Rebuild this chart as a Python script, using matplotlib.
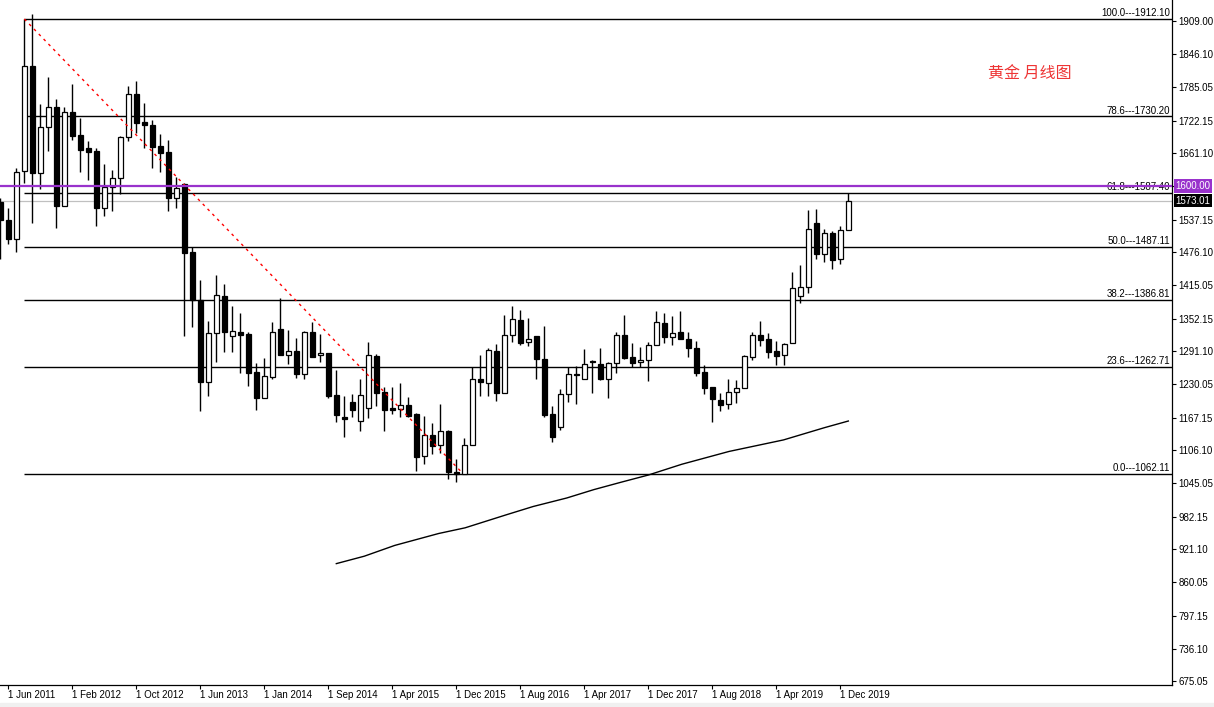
import numpy as np
import matplotlib
matplotlib.use("Agg")
import matplotlib.pyplot as plt
from matplotlib.patches import Rectangle
from matplotlib.transforms import blended_transform_factory

plt.rcParams['font.family'] = ['Liberation Sans', 'DejaVu Sans']

# monthly gold candles, one entry per bar (May 2011 -> Jan 2020)
opens = [1570.2, 1536.6, 1501.1, 1628.1, 1824.3, 1624.4, 1710.3, 1747.7, 1562.8, 1738.4,
         1695.4, 1671.1, 1665.5, 1559.0, 1598.3, 1615.1, 1691.7, 1772.0, 1719.7, 1714.1,
         1674.9, 1663.6, 1577.7, 1603.9, 1476.8, 1387.2, 1234.0, 1325.5, 1394.6, 1319.9,
         1327.4, 1323.6, 1252.7, 1204.1, 1243.3, 1333.0, 1284.4, 1291.9, 1248.9, 1327.4,
         1284.4, 1288.2, 1209.7, 1168.6, 1196.6, 1161.1, 1185.4, 1282.5, 1215.3, 1185.4,
         1183.5, 1191.0, 1174.2, 1095.7, 1135.0, 1116.3, 1142.4, 1065.9, 1062.1, 1116.3,
         1239.6, 1232.1, 1291.9, 1213.4, 1321.8, 1349.8, 1308.7, 1319.9, 1276.9, 1174.2,
         1149.9, 1211.6, 1248.9, 1239.6, 1273.2, 1267.6, 1239.6, 1269.5, 1321.8, 1280.7,
         1271.3, 1275.1, 1303.1, 1344.2, 1318.0, 1327.4, 1314.3, 1297.5, 1252.7, 1224.6,
         1200.4, 1192.9, 1215.3, 1222.8, 1280.7, 1321.8, 1314.3, 1291.9, 1284.4, 1306.8,
         1394.6, 1411.4, 1531.0, 1473.1, 1512.3, 1463.8, 1517.9]
highs = [1577.7, 1559.0, 1633.8, 1912.1, 1921.4, 1753.3, 1803.7, 1762.6, 1747.7, 1790.7,
         1727.2, 1684.2, 1671.1, 1641.2, 1630.0, 1693.5, 1786.9, 1796.3, 1755.2, 1723.4,
         1697.3, 1686.1, 1616.9, 1605.7, 1486.2, 1424.5, 1347.9, 1433.9, 1417.1, 1376.0,
         1362.9, 1327.4, 1269.5, 1278.8, 1346.1, 1390.9, 1331.1, 1316.2, 1329.3, 1346.1,
         1323.6, 1288.2, 1256.4, 1207.8, 1211.6, 1239.6, 1308.7, 1286.3, 1224.6, 1224.6,
         1232.1, 1206.0, 1176.1, 1170.5, 1157.4, 1192.9, 1144.3, 1090.1, 1129.4, 1262.0,
         1284.4, 1297.5, 1305.0, 1359.1, 1376.0, 1368.5, 1353.5, 1319.9, 1338.6, 1189.1,
         1220.9, 1262.0, 1263.9, 1295.6, 1275.1, 1297.5, 1271.3, 1327.4, 1359.1, 1306.8,
         1299.4, 1308.7, 1366.6, 1362.9, 1357.3, 1366.6, 1327.4, 1310.6, 1265.7, 1224.6,
         1213.4, 1239.6, 1237.7, 1284.4, 1327.4, 1347.9, 1325.5, 1310.6, 1306.8, 1439.5,
         1452.5, 1555.3, 1557.2, 1519.8, 1516.1, 1525.4, 1587.1]
lows = [1463.8, 1491.8, 1476.8, 1605.7, 1531.0, 1594.5, 1665.5, 1521.7, 1562.8, 1686.1,
        1626.3, 1611.3, 1525.4, 1544.1, 1553.4, 1585.2, 1684.2, 1699.1, 1671.1, 1633.8,
        1626.3, 1553.4, 1559.0, 1319.9, 1336.7, 1179.8, 1207.8, 1271.3, 1290.0, 1290.0,
        1250.8, 1226.5, 1181.7, 1204.1, 1239.6, 1284.4, 1267.6, 1241.5, 1239.6, 1280.7,
        1271.3, 1204.1, 1159.3, 1131.2, 1168.6, 1142.4, 1166.7, 1189.1, 1142.4, 1174.2,
        1168.6, 1168.6, 1067.7, 1080.8, 1099.5, 1101.3, 1052.8, 1047.2, 1062.1, 1116.3,
        1207.8, 1207.8, 1198.5, 1213.4, 1308.7, 1303.1, 1301.2, 1239.6, 1168.6, 1121.9,
        1144.3, 1196.6, 1192.9, 1239.6, 1213.4, 1237.7, 1204.1, 1250.8, 1276.9, 1262.0,
        1262.0, 1235.8, 1303.1, 1306.8, 1303.1, 1314.3, 1280.7, 1245.2, 1211.6, 1159.3,
        1179.8, 1183.5, 1194.8, 1222.8, 1275.1, 1301.2, 1278.8, 1265.7, 1265.7, 1306.8,
        1381.6, 1400.2, 1463.8, 1458.2, 1445.1, 1454.4, 1517.9]
closes = [1536.6, 1501.1, 1626.3, 1824.3, 1624.4, 1710.3, 1747.7, 1562.8, 1738.4, 1693.5,
          1667.4, 1663.6, 1559.0, 1598.3, 1615.1, 1691.7, 1772.0, 1717.8, 1714.1, 1673.0,
          1661.8, 1577.7, 1596.4, 1475.0, 1387.2, 1234.0, 1325.5, 1396.5, 1327.4, 1329.3,
          1321.8, 1250.8, 1204.1, 1245.2, 1327.4, 1284.4, 1291.9, 1248.9, 1327.4, 1280.7,
          1288.2, 1207.8, 1172.3, 1164.9, 1181.7, 1209.7, 1284.4, 1213.4, 1181.7, 1181.7,
          1191.0, 1170.5, 1093.9, 1135.0, 1114.4, 1142.4, 1065.9, 1062.1, 1116.3, 1239.6,
          1234.0, 1293.8, 1213.4, 1321.8, 1351.7, 1306.8, 1314.3, 1276.9, 1172.3, 1131.2,
          1211.6, 1248.9, 1247.1, 1267.6, 1271.3, 1239.6, 1269.5, 1321.8, 1278.8, 1269.5,
          1275.1, 1303.1, 1346.1, 1318.0, 1325.5, 1314.3, 1297.5, 1250.8, 1222.8, 1202.2,
          1191.0, 1215.3, 1222.8, 1282.5, 1321.8, 1312.4, 1290.0, 1282.5, 1305.0, 1409.6,
          1411.4, 1519.8, 1473.1, 1512.3, 1461.9, 1517.9, 1573.01]

# long moving average, read at a few bars
ma_bars = [42, 45.5, 49.3, 54.8, 58.1, 63.2, 66.6, 70.8, 74.2, 77.6, 81, 85.2, 91.1, 97.9, 103, 106]
ma_vals = [894.7, 908.6, 928.7, 951.0, 961.6, 985.7, 1001.4, 1017.3, 1033.0, 1046.8,
           1060.2, 1080.4, 1104.3, 1125.8, 1148.6, 1161.1]

# fibonacci retracement between the 2011 high and the 2015 low
fib_high = 1912.10
fib_low = 1062.11
fib_start_bar = 3
fib_ratios = [100.0, 78.6, 61.8, 50.0, 38.2, 23.6, 0.0]

# dotted downtrend line
trend_bars = [3, 57.7]
trend_prices = [1912.1, 1065.0]

resistance = 1600.00
last_price = 1573.01

ytick_vals = [1909.00, 1846.10, 1785.05, 1722.15, 1661.10, 1600.00, 1537.15, 1476.10,
              1415.05, 1352.15, 1291.10, 1230.05, 1167.15, 1106.10, 1045.05, 982.15,
              921.10, 860.05, 797.15, 736.10, 675.05]
xtick_bars = [1, 9, 17, 25, 33, 41, 49, 57, 65, 73, 81, 89, 97, 105]
xtick_labels = ["1 Jun 2011", "1 Feb 2012", "1 Oct 2012", "1 Jun 2013", "1 Jan 2014",
                "1 Sep 2014", "1 Apr 2015", "1 Dec 2015", "1 Aug 2016", "1 Apr 2017",
                "1 Dec 2017", "1 Aug 2018", "1 Apr 2019", "1 Dec 2019"]

W, H = 1214, 707
fig = plt.figure(figsize=(W / 100, H / 100), dpi=100)
ax = fig.add_axes([0, 1 - 684.5 / H, 1172 / W, 684.5 / H])

o = np.array(opens)
h = np.array(highs)
l = np.array(lows)
c = np.array(closes)
x = np.arange(len(o))
up = c >= o

# wicks then bodies
ax.vlines(x, l, h, color="black", lw=1.0, zorder=3)
body_lo = np.minimum(o, c)
body_h = np.maximum(np.abs(c - o), 1.6)
ax.bar(x[up], body_h[up], bottom=body_lo[up], width=0.6, color="white",
       edgecolor="black", linewidth=0.9, zorder=4)
ax.bar(x[~up], body_h[~up], bottom=body_lo[~up], width=0.6, color="black",
       edgecolor="black", linewidth=0.9, zorder=4)

ax.plot(ma_bars, ma_vals, color="black", lw=1.0, zorder=3)
ax.plot(trend_bars, trend_prices, color="#ff0000", lw=1.0, linestyle=(0, (2, 3)), zorder=5)

xmin = -0.04
xmax = xmin + 1172 / 8
ax.set_xlim(xmin, xmax)
ax.set_ylim(668.9, 1947.6)

trans = blended_transform_factory(ax.transAxes, ax.transData)
for r in fib_ratios:
    lvl = fib_low + (fib_high - fib_low) * r / 100
    ax.hlines(lvl, fib_start_bar, xmax, color="black", lw=1.0, zorder=2)
    ax.text(0.9985, lvl + 1.5, "%.1f---%.2f" % (r, lvl), transform=trans,
            ha="right", va="bottom", fontsize=7, color="black", zorder=3)

ax.axhline(last_price, color="#c0c0c0", lw=0.9, zorder=1)
ax.axhline(resistance, color="#9932cc", lw=1.6, zorder=6)

ax.text(1.003, resistance, "%.2f" % resistance, transform=trans, ha="left", va="center",
        fontsize=7, color="white", clip_on=False, zorder=10,
        bbox=dict(boxstyle="square,pad=0.2", fc="#9932cc", ec="none"))
ax.text(1.003, last_price, "%.2f" % last_price, transform=trans, ha="left", va="center",
        fontsize=7, color="white", clip_on=False, zorder=10,
        bbox=dict(boxstyle="square,pad=0.2", fc="black", ec="none"))

ax.yaxis.tick_right()
ax.set_yticks(ytick_vals)
# the 1600 tick label sits under the purple price tag
ax.set_yticklabels(["" if v == resistance else "%.2f" % v for v in ytick_vals])
ax.set_xticks(xtick_bars)
ax.set_xticklabels(xtick_labels, ha="left")
ax.tick_params(axis="y", length=3, width=0.8, pad=1.5, labelsize=7, direction="out")
ax.tick_params(axis="x", length=3, width=0.8, pad=1.0, labelsize=7, direction="out")

for side in ["left", "top"]:
    ax.spines[side].set_visible(False)
for side in ["right", "bottom"]:
    ax.spines[side].set_linewidth(0.9)

fig.text(1030 / W, 1 - 74 / H, "黄金 月线图", family=["Noto Sans CJK SC", "DejaVu Sans"],
         fontsize=11.5, color="#ee3535", ha="center", va="center")

fig.patches.append(Rectangle((0, 0), 1, 4 / H, transform=fig.transFigure,
                             color="#f0f0f0", zorder=0))

fig.savefig("out.png", dpi=100)
